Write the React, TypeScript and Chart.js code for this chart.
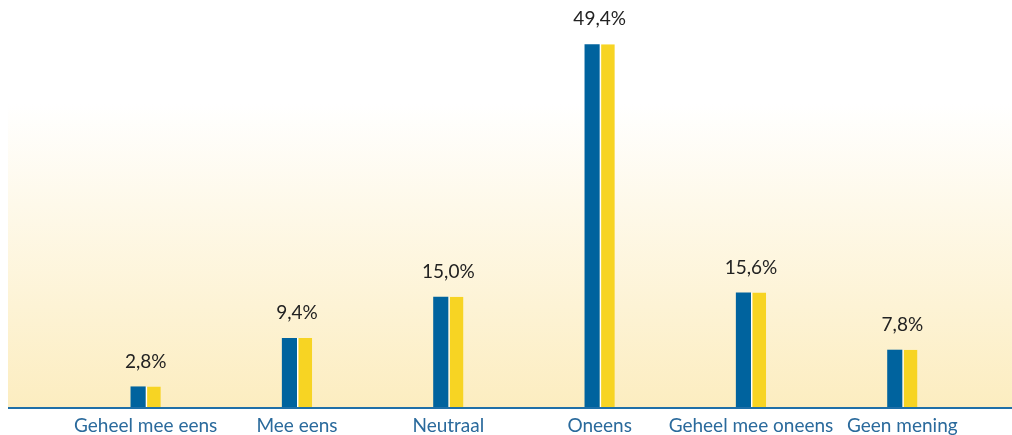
import React, { useEffect, useRef } from "react";
import { Chart, registerables } from "chart.js";

Chart.register(...registerables);

const categories = ["Geheel mee eens", "Mee eens", "Neutraal", "Oneens", "Geheel mee oneens", "Geen mening"];
const seriesA = [2.8, 9.4, 15.0, 49.4, 15.6, 7.8];
const seriesB = [2.8, 9.4, 15.0, 49.4, 15.6, 7.8];
const valueLabels = ["2,8%", "9,4%", "15,0%", "49,4%", "15,6%", "7,8%"];

const BLUE = "#00639e";
const YELLOW = "#f7d423";
const AXIS = "#1f6fa8";
const LABEL_BLUE = "#2a6a9c";
const FONT = "Lato, 'Open Sans', sans-serif";

const bgPlugin = {
  id: "bgGradient",
  beforeDraw(chart: any) {
    const { ctx, chartArea, width } = chart;
    const g = ctx.createLinearGradient(0, chartArea.top, 0, chartArea.bottom);
    g.addColorStop(0, "#ffffff");
    g.addColorStop(0.25, "#ffffff");
    g.addColorStop(1, "#fcedc0");
    ctx.save();
    ctx.fillStyle = g;
    ctx.fillRect(0, chartArea.top, width, chartArea.bottom - chartArea.top);
    ctx.restore();
  },
  afterDatasetsDraw(chart: any) {
    const { ctx, chartArea, width, scales } = chart;
    ctx.save();
    ctx.strokeStyle = AXIS;
    ctx.lineWidth = 2;
    ctx.beginPath();
    ctx.moveTo(0, chartArea.bottom + 1);
    ctx.lineTo(width, chartArea.bottom + 1);
    ctx.stroke();
    ctx.fillStyle = "#222222";
    ctx.font = `19px ${FONT}`;
    ctx.textAlign = "center";
    ctx.textBaseline = "middle";
    valueLabels.forEach((lbl, i) => {
      const x = scales.x.getPixelForValue(i);
      const y = scales.y.getPixelForValue(Math.max(seriesA[i], seriesB[i]));
      ctx.fillText(lbl, x, y - 25);
    });
    ctx.restore();
  },
};

export default function App() {
  const ref = useRef<HTMLCanvasElement>(null);
  useEffect(() => {
    if (!ref.current) return;
    const chart = new Chart(ref.current, {
      type: "bar",
      data: {
        labels: categories,
        datasets: [
          {
            data: seriesA,
            backgroundColor: BLUE,
            borderWidth: 0,
            categoryPercentage: 0.2,
            barPercentage: 1,
          },
          {
            data: seriesB,
            backgroundColor: YELLOW,
            borderColor: "#ffffff",
            borderWidth: { left: 1.5, top: 0, right: 0, bottom: 0 },
            borderSkipped: false,
            categoryPercentage: 0.2,
            barPercentage: 1,
          },
        ],
      },
      options: {
        animation: false,
        responsive: true,
        maintainAspectRatio: false,
        layout: { padding: { left: 62, right: 34, top: 3, bottom: 0 } },
        plugins: { legend: { display: false }, tooltip: { enabled: false } },
        scales: {
          y: { display: false, min: 0, max: 55 },
          x: {
            grid: { display: false, drawTicks: false },
            border: { display: false },
            ticks: {
              color: LABEL_BLUE,
              font: { family: FONT, size: 19 },
              padding: 7,
              maxRotation: 0,
              autoSkip: false,
            },
            afterFit: (scale: any) => {
              scale.height = 28;
            },
          },
        },
      },
      plugins: [bgPlugin],
    });
    return () => chart.destroy();
  }, []);
  return (
    <div style={{ position: "fixed", left: 8, top: 0, width: 1004, height: 435 }}>
      <canvas ref={ref} />
    </div>
  );
}
